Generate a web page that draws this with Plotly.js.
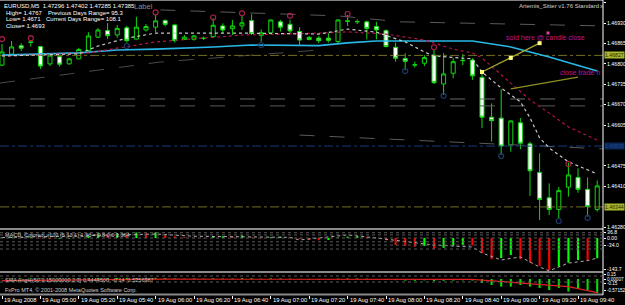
<!DOCTYPE html>
<html><head><meta charset="utf-8">
<script src="https://cdn.plot.ly/plotly-3.0.1.min.js"></script>
<style>html,body{margin:0;padding:0;background:#000;}#chart{width:625px;height:305px;}</style>
</head><body><div id="chart"></div>
<script>
// ---------- DATA ----------
const barTimes = ["04:40","04:45","04:50","04:55","05:00","05:05","05:10","05:15","05:20","05:25",
"05:30","05:35","05:40","05:45","05:50","05:55","06:00","06:05","06:10","06:15",
"06:20","06:25","06:30","06:35","06:40","06:45","06:50","06:55","07:00","07:05",
"07:10","07:15","07:20","07:25","07:30","07:35","07:40","07:45","07:50","07:55",
"08:00","08:05","08:10","08:15","08:20","08:25","08:30","08:35","08:40","08:45",
"08:50","08:55","09:00","09:05","09:10","09:15","09:20","09:25","09:30","09:35",
"09:40","09:45","09:50"];
const openP = [1.46796,1.46831,1.46858,1.46870,1.46855,1.46800,1.46823,1.46800,1.46816,1.46842,
1.46885,1.46906,1.46892,1.46915,1.46879,1.46908,1.46917,1.46938,1.46924,1.46878,
1.46878,1.46882,1.46887,1.46921,1.46912,1.46921,1.46938,1.46891,1.46899,1.46934,
1.46926,1.46903,1.46884,1.46882,1.46882,1.46871,1.46937,1.46934,1.46934,1.46919,
1.46906,1.46853,1.46817,1.46796,1.46802,1.46828,1.46736,1.46770,1.46810,1.46812,
1.46757,1.46630,1.46627,1.46541,1.46612,1.46545,1.46454,1.46373,1.46336,1.46407,
1.46438,1.46400,1.46336];
const highP = [1.46863,1.46873,1.46866,1.46871,1.46857,1.46828,1.46826,1.46819,1.46851,1.46901,
1.46914,1.46930,1.46924,1.46921,1.46950,1.46927,1.46956,1.46942,1.46927,1.46892,
1.46892,1.46887,1.46945,1.46929,1.46940,1.46956,1.46958,1.46910,1.46941,1.46940,
1.46940,1.46917,1.46889,1.46889,1.46898,1.46941,1.46956,1.46942,1.46938,1.46934,
1.46910,1.46868,1.46834,1.46807,1.46828,1.46846,1.46834,1.46818,1.46831,1.46818,
1.46780,1.46674,1.46719,1.46621,1.46627,1.46552,1.46515,1.46419,1.46408,1.46485,
1.46467,1.46438,1.46428];
const lowP = [1.46793,1.46825,1.46841,1.46855,1.46784,1.46793,1.46791,1.46798,1.46815,1.46841,
1.46883,1.46879,1.46883,1.46868,1.46878,1.46903,1.46901,1.46919,1.46868,1.46876,
1.46874,1.46876,1.46882,1.46897,1.46892,1.46908,1.46892,1.46871,1.46894,1.46903,
1.46897,1.46857,1.46875,1.46866,1.46868,1.46866,1.46921,1.46927,1.46878,1.46878,
1.46853,1.46807,1.46780,1.46788,1.46793,1.46736,1.46701,1.46754,1.46796,1.46749,
1.46595,1.46552,1.46510,1.46520,1.46528,1.46379,1.46302,1.46318,1.46308,1.46377,
1.46389,1.46313,1.46329];
const closeP = [1.46838,1.46854,1.46850,1.46869,1.46793,1.46828,1.46799,1.46816,1.46846,1.46889,
1.46908,1.46890,1.46913,1.46874,1.46917,1.46919,1.46937,1.46926,1.46874,1.46885,
1.46889,1.46881,1.46923,1.46908,1.46921,1.46931,1.46897,1.46899,1.46940,1.46917,
1.46905,1.46876,1.46878,1.46874,1.46875,1.46940,1.46936,1.46935,1.46913,1.46908,
1.46855,1.46818,1.46808,1.46797,1.46820,1.46740,1.46768,1.46807,1.46811,1.46762,
1.46630,1.46619,1.46538,1.46618,1.46547,1.46459,1.46368,1.46336,1.46396,1.46446,
1.46400,1.46345,1.46411];

// moving averages (bar index, price)
const maCyanBars = [0,8,12,16,22,26,33,36,39,49,53,57,62];
const maCyanVals = [1.46828,1.46835,1.46844,1.46847,1.46854,1.46860,1.46858,1.46867,1.46873,1.46873,1.46854,1.46822,1.46777];
const maWhiteBars = [0,8,10,13,16,25,33,36,39,42,44,45,49,50,52,54,55,56,57,59,62];
const maWhiteVals = [1.46825,1.46832,1.46857,1.46882,1.46898,1.46898,1.46895,1.46911,1.46901,1.46870,1.46838,1.46825,1.46816,1.46774,1.46723,1.46679,1.46628,1.46564,1.46532,1.46488,1.46449];
const maRedBars = [0,9,16,25,33,36,40,44,47,49,50,53,55,57,59,62];
const maRedVals = [1.46825,1.46835,1.46870,1.46892,1.46898,1.46902,1.46895,1.46876,1.46847,1.46835,1.46819,1.46739,1.46685,1.46643,1.46599,1.46557];

// grey dashed channel lines
const levelA = 1.46688, levelB = 1.46666;
const chanUpBars = [16.5,35,41.5,62.6];
const chanUpVals = [1.46972,1.46953,1.46934,1.46921];
const chanLowBars = [-0.2,16.5,33];
const chanLowVals = [1.46739,1.46806,1.46844];
const chanMidBars = [31,62.6];
const chanMidVals = [1.46573,1.46529];

// horizontal marked lines
const olivePriceTop = 1.46827, olivePriceBot = 1.46344, bluePrice = 1.46538;

// fractals
const upFracBars = [0,3,16,22,25,30,36,45,59];
const upFracVals = [1.46879,1.46882,1.46964,1.46948,1.46961,1.46953,1.46959,1.46853,1.46481];
const dnFracBars = [13,27,42,46,52,58,61];
const dnFracVals = [1.46857,1.46860,1.46777,1.46698,1.46506,1.46299,1.46309];

// trade lines
const sellBars = [50,53,56];
const sellVals = [1.46774,1.46819,1.46866];
const closeBars = [53,60];
const closeVals = [1.46720,1.46758];

// MACD histogram & signal
const macdHist = [3,5,4,4,-2,-5,-4,-3,1,8,20,16,22,14,25,22,26,18,8,4,2,-2,6,8,6,12,4,-2,5,6,3,-5,-8,-10,-9,2,6,8,4,0,-10,-32,-36,-40,-36,-50,-45,-36,-32,-34,-68,-96,-91,-77,-96,-112,-127,-146,-130,-112,-100,-104,-92];
const sigBars = [0,10,16,20,25,30,31,36,39,45,49,50,52,54,56,57,59,61,62];
const sigVals = [2,10,18,8,6,3,-9,14,0,-32,-41,-68,-100,-86,-132,-149,-114,-103,-91];
const macdLevels = [24,14,0,-17,-32,-50];

// SMA angle
const smaHist = [0.02,0.03,0.02,0.04,0.03,0.02,0.03,0.02,0.03,0.04,0.05,0.04,0.05,0.06,0.05,0.06,0.06,0.05,0.03,0.02,0.03,0.02,0.04,0.03,0.03,0.05,0.04,0.02,0.04,0.03,0.02,-0.02,-0.03,-0.04,-0.03,0.02,0.03,0.03,0.02,-0.02,-0.05,-0.06,-0.08,-0.09,-0.07,-0.1,-0.09,-0.08,-0.07,-0.08,-0.2,-0.3,-0.38,-0.38,-0.3,-0.38,-0.45,-0.55,-0.45,-0.63,-0.5,-0.55,-0.7];
const smaLineBars = [0,17,49,52,55,59,62];
const smaLineVals = [-0.085,-0.01,-0.02,-0.13,-0.22,-0.38,-0.68];
const smaLevels = [0.15,-0.15];

// axis labels
const priceTicks = [1.46995,1.46930,1.46865,1.46800,1.46735,1.46670,1.46605,1.46475,1.46410,1.46280];
const macdTicks = [26,0,-34,-143.7];
const macdTickText = ["36.8","0.00","-34.0","-143.7"];
const smaTicks = [0.23,0.0,-0.23,-0.57152];
const smaTickText = ["0.15","0.00007","-0.15","-0.57152"];
const timeLabelBars = [0,4,8,12,16,20,24,28,32,36,40,44,48,52,56,60];
const timeLabels = ["19 Aug 2008","19 Aug 05:00","19 Aug 05:20","19 Aug 05:40","19 Aug 06:00","19 Aug 06:20","19 Aug 06:40","19 Aug 07:00","19 Aug 07:20","19 Aug 07:40","19 Aug 08:00","19 Aug 08:20","19 Aug 08:40","19 Aug 09:00","19 Aug 09:20","19 Aug 09:40"];

// ---------- LAYOUT HELPERS ----------
const H = 295, W = 603;
const py = v => 1 - v / H;
const px = v => v / W;
const idx = barTimes.map((_, i) => i);
const FONT = "Liberation Sans, Arial, sans-serif";
const GREEN = "#10d810";

const macdColors = macdHist.map((v, i) => (i === 0 || v >= macdHist[i-1]) ? "#00ff00" : "#ff0000");

const traces = [
  {type:"scatter", mode:"lines", x:[-0.2,62.6], y:[levelA,levelA], line:{color:"#6a6a6a",width:1,dash:"longdash"}, hoverinfo:"skip"},
  {type:"scatter", mode:"lines", x:[-0.2,62.6], y:[levelB,levelB], line:{color:"#5a5a5a",width:1,dash:"longdash"}, hoverinfo:"skip"},
  {type:"scatter", mode:"lines", x:chanUpBars, y:chanUpVals, line:{color:"#5a5a5a",width:1,dash:"longdash"}, hoverinfo:"skip"},
  {type:"scatter", mode:"lines", x:chanLowBars, y:chanLowVals, line:{color:"#4a4a4a",width:1,dash:"longdash"}, hoverinfo:"skip"},
  {type:"scatter", mode:"lines", x:chanMidBars, y:chanMidVals, line:{color:"#5a5a5a",width:1,dash:"longdash"}, hoverinfo:"skip"},
  {type:"scatter", mode:"lines", x:[-0.2,62.6], y:[olivePriceTop,olivePriceTop], line:{color:"#707020",width:1,dash:"dashdot"}, hoverinfo:"skip"},
  {type:"scatter", mode:"lines", x:[-0.2,62.6], y:[olivePriceBot,olivePriceBot], line:{color:"#707020",width:1,dash:"dashdot"}, hoverinfo:"skip"},
  {type:"scatter", mode:"lines", x:[-0.2,62.6], y:[bluePrice,bluePrice], line:{color:"#1a3a7a",width:1,dash:"dashdot"}, hoverinfo:"skip"},
  {type:"scatter", mode:"lines", x:maCyanBars, y:maCyanVals, line:{color:"#28b8e8",width:1.6}, hoverinfo:"skip"},
  {type:"scatter", mode:"lines", x:maRedBars, y:maRedVals, line:{color:"#b8104a",width:1.2,dash:"dot"}, hoverinfo:"skip"},
  {type:"scatter", mode:"lines", x:maWhiteBars, y:maWhiteVals, line:{color:"#c8c8c8",width:1.2,dash:"dot"}, hoverinfo:"skip"},
  {type:"scatter", mode:"lines", x:closeBars, y:closeVals, line:{color:"#909020",width:1.2}, hoverinfo:"skip"},
  {type:"candlestick", x:idx, open:openP, high:highP, low:lowP, close:closeP,
   increasing:{line:{color:GREEN,width:1}, fillcolor:"#000000"},
   decreasing:{line:{color:GREEN,width:1}, fillcolor:"#ffffff"},
   whiskerwidth:0, hoverinfo:"skip"},
  {type:"scatter", mode:"lines+markers", x:sellBars, y:sellVals, line:{color:"#a8a830",width:1.2}, marker:{symbol:"square",size:4,color:"#ffff80"}, hoverinfo:"skip"},
  {type:"scatter", mode:"markers", x:upFracBars, y:upFracVals, marker:{symbol:"circle-open",size:5,color:"#b0204a",line:{width:1.1}}, hoverinfo:"skip"},
  {type:"scatter", mode:"markers", x:dnFracBars, y:dnFracVals, marker:{symbol:"circle-open",size:5,color:"#1e3c70",line:{width:1.1}}, hoverinfo:"skip"},
  {type:"bar", x:idx, y:macdHist, yaxis:"y2", width:0.22, marker:{color:macdColors, line:{width:0}}, hoverinfo:"skip"},
  {type:"scatter", mode:"lines", x:sigBars, y:sigVals, yaxis:"y2", line:{color:"#b0b0b0",width:1,dash:"dot"}, hoverinfo:"skip"},
  {type:"bar", x:idx, y:smaHist, yaxis:"y3", width:0.22, marker:{color:"#00e000", line:{width:0}}, hoverinfo:"skip"},
  {type:"scatter", mode:"lines", x:smaLineBars, y:smaLineVals, yaxis:"y3", line:{color:"#e02020",width:1.2}, hoverinfo:"skip"}
];

const shapes = [];
shapes.push({type:"line", xref:"paper", yref:"paper", x0:0, x1:1, y0:py(0.5), y1:py(0.5), line:{color:"#808080",width:1}});
[229, 272, 294.5].forEach(v => shapes.push({type:"line", xref:"paper", yref:"paper", x0:0, x1:1, y0:py(v), y1:py(v), line:{color:"#8a8a8a",width:2}}));
shapes.push({type:"line", xref:"paper", yref:"paper", x0:1, x1:1, y0:0, y1:1, line:{color:"#ffffff",width:1}});
macdLevels.forEach(v => shapes.push({type:"line", xref:"paper", yref:"y2", x0:0, x1:1, y0:v, y1:v, line:{color:"#5a5a5a",width:1,dash:"dot"}}));
smaLevels.forEach(v => shapes.push({type:"line", xref:"paper", yref:"y3", x0:0, x1:1, y0:v, y1:v, line:{color:"#5a5a5a",width:1,dash:"dot"}}));

const ann = [];
const txt = (text, x, y, color, size, anchor) => ann.push({text, xref:"paper", yref:"paper", x:px(x), y:py(y), xanchor:anchor||"left", yanchor:"middle", showarrow:false, font:{family:FONT,size:size||6,color:color||"#ffffff"}});
txt("EURUSD,M5  1.47296 1.47402 1.47285 1.47385", 2, 6);
txt("High= 1.4767", 4, 12.7);
txt("Previous Days Range= 95.3", 46, 12.7);
txt("Low= 1.4671", 4, 19.3);
txt("Current Days Range= 108.1", 44, 19.3);
txt("Close= 1.4693", 4, 26);
txt("Label", 132, 7, "#8a8a8a", 7.5);
txt("Artemis_Sitter v1.76 Standard", 517, 6, "#d0d0d0", 6);
txt("x", 598, 6, "#d0d0d0", 6);
txt("sold here @ candle close", 504, 37, "#c0148c", 7);
txt("close trade h", 558, 72, "#c0148c", 7);
txt("MACD_Colored_v102 (5,13,1) 1.36 = 0.8 0.0 1.364", 3, 235, "#c0c0c0", 5.5);
txt("SMA Angle(50,0.15000000,2,0) 0.4444500  -0.14  0.5256987", 3, 280, "#c0c0c0", 5.5);
txt("FxPro MT4, © 2001-2008 MetaQuotes Software Corp.", 3, 289.5, "#d0d0d0", 5.5);
ann.push({text:"", xref:"x", yref:"paper", x:56.9, y:py(31), showarrow:false, bgcolor:"#e040a0", width:2, height:2, borderpad:0});
const priceTag = (p, bg, fg) => ann.push({text:p.toFixed(5), xref:"paper", yref:"y", x:1.002, y:p, xanchor:"left", yanchor:"middle", showarrow:false, bgcolor:bg, borderpad:0, font:{family:FONT,size:5.2,color:fg}});
priceTag(olivePriceTop, "#a8b830", "#2a2a00");
priceTag(olivePriceBot, "#a8b830", "#2a2a00");
priceTag(bluePrice, "#0c2858", "#1e4a90");
timeLabelBars.forEach((b, k) => ann.push({text:timeLabels[k], xref:"x", yref:"paper", x:b, y:py(300), xanchor:"left", yanchor:"middle", showarrow:false, font:{family:FONT,size:5.8,color:"#ffffff"}}));

const yCommon = {side:"right", showgrid:false, zeroline:false, showline:false, ticks:"outside", ticklen:2, tickcolor:"#ffffff",
  tickfont:{family:FONT,size:5.2,color:"#ffffff"}, fixedrange:true};

const layout = {
  width:625, height:305, margin:{l:0,r:22,t:0,b:10},
  paper_bgcolor:"#000000", plot_bgcolor:"#000000", showlegend:false,
  boxgap:0.4,
  xaxis:{range:[-0.208,62.604], showgrid:false, zeroline:false, showline:false, anchor:"y3",
    tickvals:timeLabelBars, ticktext:timeLabelBars.map(()=>""), ticks:"outside", ticklen:3, tickcolor:"#ffffff",
    showticklabels:false, rangeslider:{visible:false}, fixedrange:true},
  yaxis:Object.assign({}, yCommon, {domain:[py(228),py(1)], range:[1.462768,1.470004], tickvals:priceTicks, ticktext:priceTicks.map(v=>v.toFixed(5))}),
  yaxis2:Object.assign({}, yCommon, {domain:[py(271),py(230)], range:[-150,36.4], tickvals:macdTicks, ticktext:macdTickText}),
  yaxis3:Object.assign({}, yCommon, {domain:[0,py(273)], range:[-0.8,0.3], tickvals:smaTicks, ticktext:smaTickText, tickfont:{family:FONT,size:4.6,color:"#ffffff"}}),
  shapes, annotations:ann
};

Plotly.newPlot("chart", traces, layout, {displayModeBar:false, staticPlot:true});
</script>
</body></html>
